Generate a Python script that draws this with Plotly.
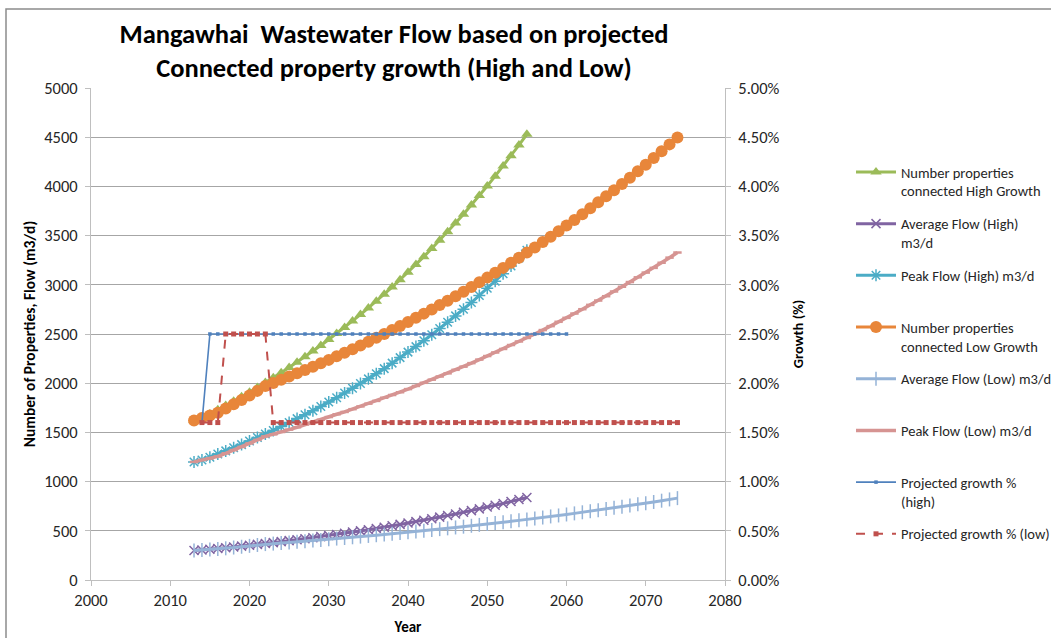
import plotly.graph_objects as go

# --- data ---------------------------------------------------------------
years_high = list(range(2013, 2056))
years_low = list(range(2013, 2075))
growth_years_high = list(range(2014, 2061))
growth_years_low = list(range(2014, 2075))

props_high = [1620, 1646, 1687, 1729, 1773, 1817, 1862, 1909, 1957, 2006,
              2056, 2107, 2160, 2214, 2269, 2326, 2384, 2444, 2505, 2567,
              2632, 2697, 2765, 2834, 2905, 2977, 3052, 3128, 3206, 3286,
              3369, 3453, 3539, 3628, 3718, 3811, 3907, 4004, 4104, 4207,
              4312, 4420, 4530]

avg_flow_high = [300, 305, 312, 320, 328, 336, 344, 353, 362, 371,
                 380, 390, 400, 410, 420, 430, 441, 452, 463, 475,
                 487, 499, 511, 524, 537, 551, 565, 579, 593, 608,
                 623, 639, 655, 671, 688, 705, 723, 741, 759, 778,
                 798, 818, 838]

peak_flow_high = [1200, 1220, 1248, 1280, 1312, 1344, 1376, 1412, 1448, 1484,
                  1520, 1560, 1600, 1640, 1680, 1720, 1764, 1808, 1852, 1900,
                  1948, 1996, 2044, 2096, 2148, 2204, 2260, 2316, 2372, 2432,
                  2492, 2556, 2620, 2684, 2752, 2820, 2892, 2964, 3036, 3112,
                  3192, 3272, 3352]

props_low = [1620, 1646, 1672, 1699, 1742, 1785, 1830, 1876, 1922, 1971,
             2002, 2034, 2067, 2100, 2133, 2167, 2202, 2237, 2273, 2309,
             2346, 2384, 2422, 2461, 2500, 2540, 2581, 2622, 2664, 2707,
             2750, 2794, 2839, 2884, 2930, 2977, 3025, 3073, 3122, 3172,
             3223, 3275, 3327, 3380, 3434, 3489, 3545, 3602, 3659, 3718,
             3777, 3838, 3899, 3962, 4025, 4089, 4155, 4221, 4289, 4357,
             4427, 4498]

avg_flow_low = [300, 305, 309, 314, 322, 330, 338, 347, 356, 365,
                370, 376, 382, 388, 395, 401, 407, 414, 421, 427,
                434, 441, 448, 455, 463, 470, 477, 485, 493, 501,
                509, 517, 525, 534, 542, 551, 560, 569, 578, 587,
                596, 606, 615, 625, 635, 646, 656, 666, 677, 688,
                699, 710, 721, 733, 745, 757, 769, 781, 793, 806,
                819, 832]

peak_flow_low = [1200, 1220, 1236, 1256, 1288, 1320, 1352, 1388, 1424, 1460,
                 1480, 1504, 1528, 1552, 1580, 1604, 1628, 1656, 1684, 1708,
                 1736, 1764, 1792, 1820, 1852, 1880, 1908, 1940, 1972, 2004,
                 2036, 2068, 2100, 2136, 2168, 2204, 2240, 2276, 2312, 2348,
                 2388, 2424, 2460, 2500, 2540, 2580, 2624, 2664, 2708, 2752,
                 2796, 2840, 2884, 2932, 2980, 3028, 3076, 3124, 3172, 3224,
                 3276, 3328]

growth_high = [0.016] + [0.025] * 46
growth_low = [0.016] * 3 + [0.025] * 6 + [0.016] * 52

x_ticks = [2000, 2010, 2020, 2030, 2040, 2050, 2060, 2070, 2080]

FONT = "Carlito, Calibri, 'Liberation Sans Narrow', 'Open Sans', sans-serif"
TXT = "#262626"
PINK = "#D69492"

fig = go.Figure()

def series(x, y, name, color, symbol=None, msize=8, mline=None, dash=None,
           width=3, yaxis="y", group=None, mcolor=None):
    marker = dict(color=mcolor or color, size=msize)
    if symbol:
        marker["symbol"] = symbol
        if mline:
            marker["line"] = dict(color=mcolor or color, width=mline)
    fig.add_trace(go.Scatter(
        x=x, y=y, name=name, yaxis=yaxis, legendgroup=group or name,
        mode="lines+markers" if symbol else "lines",
        line=dict(color=color, width=width, dash=dash),
        marker=marker,
    ))

series(years_high, props_high, "Number properties<br>connected High Growth",
       "#9BBB59", "triangle-up", msize=10)
series(years_high, avg_flow_high, "Average Flow (High)<br>m3/d",
       "#8064A2", "x-thin-open", msize=9, mline=1.5)
series(years_high, peak_flow_high, "Peak Flow (High) m3/d<br> ",
       "#4BACC6", "asterisk-open", msize=10, mline=1.5)
series(years_low, props_low, "Number properties<br>connected Low Growth",
       "#E8863A", "circle", msize=12)
series(years_low, avg_flow_low, "Average Flow (Low) m3/d<br> ",
       "#95B3D7", "line-ns-open", msize=10, mline=1.5)
series(years_low, peak_flow_low, "Peak Flow (Low) m3/d<br> ",
       PINK, width=3.5)
# small step ticks drawn along the low-growth peak flow line
fig.add_trace(go.Scatter(
    x=years_low, y=peak_flow_low, mode="markers", showlegend=False,
    legendgroup="Peak Flow (Low) m3/d<br> ", hoverinfo="skip",
    marker=dict(symbol="line-ew-open", size=6, color=PINK,
                line=dict(color=PINK, width=2.5)),
))
series(growth_years_high, growth_high, "Projected growth %<br>(high)",
       "#4F81BD", "square", msize=3.5, width=1.6, yaxis="y2")
series(growth_years_low, growth_low, "Projected growth % (low)<br> ",
       "#C0504D", "square", msize=5, width=2, dash="dash", yaxis="y2")

L, R, T, B = 91, 725, 88, 580
W, H = 1051, 638
pw, ph = R - L, B - T

fig.update_layout(
    width=W, height=H,
    margin=dict(l=L, r=W - R, t=T, b=H - B, autoexpand=False),
    paper_bgcolor="white", plot_bgcolor="white",
    font=dict(family=FONT, size=16.5, color=TXT),
    title=dict(
        text="<b>Mangawhai  Wastewater Flow based on projected<br>"
             "Connected property growth (High and Low)</b>",
        font=dict(family=FONT, size=26.5, color="#000000"),
        xref="paper", x=(394 - L) / pw, xanchor="center",
        yref="container", y=1 - 43 / H, yanchor="middle",
    ),
    xaxis=dict(
        range=[2000, 2080], tickvals=x_ticks, showgrid=False,
        showline=True, linecolor="#BFBFBF", linewidth=1,
        ticks="outside", ticklen=5, tickcolor="#BFBFBF",
        tickfont=dict(size=16.5, color=TXT), automargin=False,
        title=dict(text="<b>Year</b>", font=dict(size=15, color="#000"),
                   standoff=12),
        zeroline=False,
    ),
    yaxis=dict(
        range=[0, 5000], dtick=500, showgrid=True, gridcolor="#A6A6A6",
        gridwidth=1, showline=True, linecolor="#BFBFBF",
        ticks="outside", ticklen=5, tickcolor="#BFBFBF",
        tickfont=dict(size=16.5, color=TXT), ticklabelstandoff=4,
        automargin=False,
        title=dict(text="<b>Number of Properties, Flow (m3/d)</b>",
                   font=dict(size=15.5, color="#000"), standoff=4),
        zeroline=False,
    ),
    yaxis2=dict(
        overlaying="y", side="right", range=[0, 0.05], dtick=0.005,
        tickformat=".2%", showgrid=False, showline=True,
        linecolor="#BFBFBF", ticks="outside", ticklen=5, tickcolor="#BFBFBF",
        tickfont=dict(size=16.5, color=TXT), ticklabelstandoff=4,
        automargin=False,
        title=dict(text="<b>Growth (%)</b>", font=dict(size=14.5, color="#000"),
                   standoff=14),
        zeroline=False,
    ),
    legend=dict(
        x=(851 - L) / pw, xanchor="left", y=(B - 156) / ph, yanchor="top",
        font=dict(size=14.5, color=TXT), valign="top",
        tracegroupgap=11, bgcolor="rgba(0,0,0,0)",
        itemwidth=40,
    ),
    showlegend=True,
)

# outer chart frame
fig.add_shape(type="rect", xref="paper", yref="paper",
              x0=(6 - L) / pw, x1=(W + 20 - L) / pw,
              y0=(B - H - 20) / ph, y1=(B - 9) / ph,
              line=dict(color="#8C8C8C", width=1.5), layer="below")

fig.write_html("out.html")
